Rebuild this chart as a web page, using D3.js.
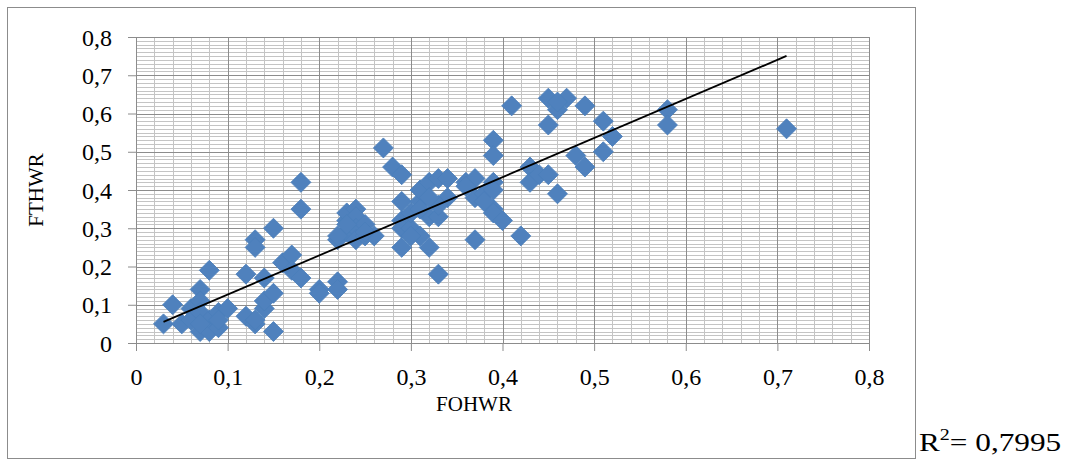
<!DOCTYPE html>
<html>
<head>
<meta charset="utf-8">
<script src="https://cdn.jsdelivr.net/npm/d3@7"></script>
<style>
  body { margin: 0; background: #fff; }
  text { font-family: "Liberation Serif", "Times New Roman", serif; fill: #000; }
</style>
</head>
<body>
<script>
// FOHWR (x) and FTHWR (y)
let fohwr = [
  0.03,0.04,0.05,0.06,0.06,0.07,0.07,0.07,0.07,0.08,0.08,0.08,0.09,0.09,0.10,0.07,0.09,
  0.12,0.12,0.13,0.13,0.13,0.13,0.14,0.14,0.14,0.15,0.15,0.15,0.16,0.17,0.17,0.18,0.18,0.18,
  0.20,0.20,0.22,0.22,0.22,0.23,0.23,0.23,0.24,0.24,0.24,0.24,0.25,0.25,0.26,0.25,0.22,0.23,
  0.27,0.28,0.29,0.29,0.29,0.29,0.29,0.30,0.31,0.31,0.31,0.32,0.33,0.32,0.32,0.33,0.33,0.34,0.34,0.33,0.32,0.30,0.31,0.30,
  0.36,0.37,0.37,0.38,0.39,0.39,0.39,0.39,0.40,0.37,0.42,0.39,0.39,0.41,0.36,0.38,
  0.43,0.43,0.44,0.45,0.46,0.45,0.47,0.46,0.45,0.49,0.48,0.49,0.51,0.52,0.51,0.46,0.58,0.58,0.71];
let fthwr = [
  0.05,0.10,0.05,0.09,0.06,0.14,0.11,0.03,0.08,0.19,0.06,0.03,0.04,0.08,0.09,0.05,0.06,
  0.18,0.07,0.05,0.06,0.27,0.25,0.17,0.09,0.11,0.13,0.03,0.30,0.21,0.23,0.19,0.17,0.42,0.35,
  0.14,0.13,0.16,0.14,0.27,0.29,0.32,0.34,0.35,0.33,0.30,0.27,0.31,0.28,0.28,0.29,0.28,0.31,
  0.51,0.46,0.44,0.37,0.32,0.30,0.25,0.30,0.28,0.37,0.40,0.42,0.43,0.25,0.33,0.33,0.18,0.43,0.38,0.36,0.38,0.34,0.35,0.28,
  0.42,0.43,0.38,0.39,0.42,0.40,0.35,0.34,0.32,0.27,0.28,0.53,0.49,0.62,0.41,0.37,
  0.46,0.42,0.44,0.44,0.39,0.64,0.64,0.61,0.57,0.62,0.49,0.46,0.58,0.54,0.50,0.63,0.61,0.57,0.56];

let tickValues = [0,0.1,0.2,0.3,0.4,0.5,0.6,0.7,0.8];
let tickLabels = ["0","0,1","0,2","0,3","0,4","0,5","0,6","0,7","0,8"];
let xTitle = "FOHWR", yTitle = "FTHWR";
let r2Label = "0,7995";

let width = 1076, height = 464;
let margin = {left:136, right:207, top:37, bottom:121};
let plotW = width - margin.left - margin.right,
    plotH = height - margin.top - margin.bottom;

let x = d3.scaleLinear().domain([0,0.8]).range([0,plotW]);
let y = d3.scaleLinear().domain([0,0.8]).range([plotH,0]);

let svg = d3.select("body").append("svg")
  .attr("width", width).attr("height", height);

// chart frame
svg.append("rect")
  .attr("x", 7.5).attr("y", 7.5)
  .attr("width", 908).attr("height", 451)
  .attr("fill", "none").attr("stroke", "#8c8c8c");

let g = svg.append("g").attr("transform", `translate(${margin.left},${margin.top})`);

// minor grid
g.append("g").selectAll("line").data(d3.range(1,80).map(i => i/100)).join("line")
  .attr("x1",0).attr("x2",plotW)
  .attr("y1",d => Math.round(y(d))+0.5).attr("y2",d => Math.round(y(d))+0.5)
  .attr("stroke","#c4c4c4");
g.append("g").selectAll("line").data(d3.range(1,40).map(i => i/50)).join("line")
  .attr("y1",0).attr("y2",plotH)
  .attr("x1",d => Math.round(x(d))+0.5).attr("x2",d => Math.round(x(d))+0.5)
  .attr("stroke","#c4c4c4");

// major grid
g.append("g").selectAll("line").data(tickValues.slice(1)).join("line")
  .attr("x1",0).attr("x2",plotW)
  .attr("y1",d => Math.round(y(d))+0.5).attr("y2",d => Math.round(y(d))+0.5)
  .attr("stroke","#8c8c8c");
g.append("g").selectAll("line").data(tickValues.slice(1)).join("line")
  .attr("y1",0).attr("y2",plotH)
  .attr("x1",d => Math.round(x(d))+0.5).attr("x2",d => Math.round(x(d))+0.5)
  .attr("stroke","#8c8c8c");

let fmt = (d) => tickLabels[tickValues.indexOf(d)];

let xAxis = d3.axisBottom(x).tickValues(tickValues).tickFormat(fmt).tickSize(8).tickPadding(17);
let yAxis = d3.axisLeft(y).tickValues(tickValues).tickFormat(fmt).tickSize(8).tickPadding(16);

let gx = g.append("g").attr("transform",`translate(0,${plotH})`).call(xAxis);
let gy = g.append("g").call(yAxis);
[gx, gy].forEach(a => {
  a.select(".domain").attr("stroke","#8c8c8c");
  a.selectAll(".tick line").attr("stroke","#8c8c8c");
  a.selectAll("text").attr("font-family","Liberation Serif").attr("font-size",24).attr("fill","#000");
});
gy.selectAll(".tick text").attr("dy","0.34em");

// points
let points = fohwr.map((d,i) => ({x:d, y:fthwr[i]}));
let diamond = d3.symbol().type(d3.symbolSquare).size(200);
g.append("g").selectAll("path").data(points).join("path")
  .attr("d", diamond)
  .attr("transform", d => `translate(${x(d.x)},${y(d.y)}) rotate(45)`)
  .attr("fill","#4f81bd")
  .attr("stroke","#4a7ebb").attr("stroke-width",0.8);

// linear trend line (least squares)
let mx = d3.mean(fohwr), my = d3.mean(fthwr);
let sxy = d3.sum(points, d => (d.x-mx)*(d.y-my));
let sxx = d3.sum(points, d => (d.x-mx)*(d.x-mx));
let slope = sxy/sxx, icpt = my - slope*mx;
let [x0, x1] = d3.extent(fohwr);
g.append("line")
  .attr("x1",x(x0)).attr("y1",y(icpt+slope*x0))
  .attr("x2",x(x1)).attr("y2",y(icpt+slope*x1))
  .attr("stroke","#000").attr("stroke-width",1.8);

// titles
svg.append("text").attr("x",474).attr("y",411)
  .attr("text-anchor","middle").attr("font-size",21).text(xTitle);
svg.append("text").attr("transform","translate(43,190) rotate(-90)")
  .attr("text-anchor","middle").attr("font-size",21).text(yTitle);

// R²
let r2 = svg.append("text").attr("transform","translate(919,451) scale(1.25,1)").attr("font-size",25);
r2.append("tspan").text("R");
r2.append("tspan").attr("font-size",16).attr("dy",-11).text("2");
r2.append("tspan").attr("dy",11).text("= " + r2Label);
</script>
</body>
</html>
